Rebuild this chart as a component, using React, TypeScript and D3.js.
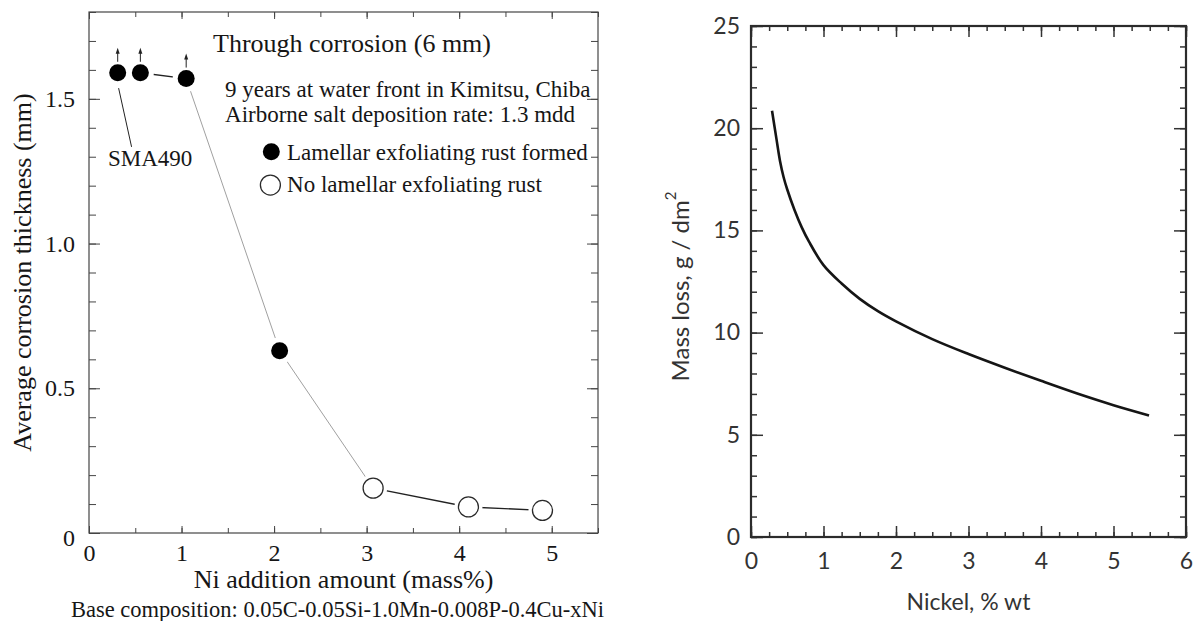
import { useEffect, useRef } from 'react';
import * as d3 from 'd3';

// left panel: Ni addition vs average corrosion thickness (9 yr exposure)
const niAmount = [0.31, 0.555, 1.05, 2.06, 3.07, 4.1, 4.9];
const corrosionMm = [1.59, 1.59, 1.57, 0.63, 0.155, 0.09, 0.078];
const lamellarRust = [true, true, true, true, false, false, false];
const throughCorroded = [true, true, true, false, false, false, false];
const segmentTone = ['dark', 'dark', 'light', 'light', 'dark', 'dark'];
const leftXTicks = [0, 1, 2, 3, 4, 5];
const leftYTicks = [0, 0.5, 1.0, 1.5];

// right panel: mass loss vs nickel content
const nickelWt = [0.29, 0.35, 0.4, 0.45, 0.5, 0.6, 0.7, 0.8, 1.0, 1.25, 1.5, 1.75, 2.0, 2.5, 3.0, 3.5, 4.0, 4.5, 5.0, 5.49];
const massLoss = [20.85, 19.5, 18.4, 17.6, 17.0, 16.0, 15.15, 14.45, 13.3, 12.4, 11.65, 11.05, 10.55, 9.68, 8.95, 8.28, 7.64, 7.02, 6.45, 5.95];
const rightXTicks = [0, 1, 2, 3, 4, 5, 6];
const rightYTicks = [0, 5, 10, 15, 20, 25];

const SERIF = '"Liberation Serif", "Times New Roman", serif';
const SANS = 'Lato, "Open Sans", sans-serif';

type Sel = d3.Selection<SVGGElement, unknown, null, undefined>;

function tickGroup(g: Sel, axis: any, transform: string, stroke: string, width = 1) {
  const a = g.append('g').attr('transform', transform).call(axis);
  a.select('.domain').remove();
  a.selectAll('line').attr('stroke', stroke).attr('stroke-width', width);
  return a;
}

function drawLeft(g: Sel) {
  const x = d3.scaleLinear().domain([0, 5.5]).range([89, 598]);
  const y = d3.scaleLinear().domain([0, 1.8]).range([533, 12]);
  const [x0, x1] = x.range();
  const [y0, y1] = y.range();
  const ink = '#161616';
  const frame = '#454545';

  const minorY = d3.range(0, 19).map((i) => i / 10);
  const halfX = d3.range(0, 12).map((i) => i / 2);
  const none = () => '';

  tickGroup(g, d3.axisLeft(y).tickValues(minorY).tickSize(-7).tickFormat(none), `translate(${x0},0)`, frame);
  tickGroup(g, d3.axisRight(y).tickValues(minorY).tickSize(-7).tickFormat(none), `translate(${x1},0)`, frame);
  tickGroup(g, d3.axisRight(y).tickValues(leftYTicks).tickSize(-11).tickFormat(none), `translate(${x1},0)`, frame);
  const yl = tickGroup(
    g,
    d3.axisLeft(y).tickValues(leftYTicks).tickSize(-11).tickPadding(14)
      .tickFormat((d: any) => (d === 0 ? '0' : d3.format('.1f')(d))),
    `translate(${x0},0)`, frame,
  );
  yl.selectAll('text').attr('font-size', 24).attr('font-family', SERIF).attr('fill', ink);
  // the zero label sits a little low in the original
  yl.selectAll('text').filter((d: any) => d === 0).attr('dy', '0.5em');

  tickGroup(g, d3.axisTop(x).tickValues(halfX).tickSize(-5).tickFormat(none), `translate(0,${y1})`, frame);
  tickGroup(g, d3.axisTop(x).tickValues(leftXTicks).tickSize(-7).tickFormat(none), `translate(0,${y1})`, frame);
  tickGroup(g, d3.axisBottom(x).tickValues(halfX).tickSize(-5).tickFormat(none), `translate(0,${y0})`, frame);
  const xl = tickGroup(
    g,
    d3.axisBottom(x).tickValues(leftXTicks).tickSize(-7).tickPadding(11).tickFormat(d3.format('d') as any),
    `translate(0,${y0})`, frame,
  );
  xl.selectAll('text').attr('font-size', 24).attr('font-family', SERIF).attr('fill', ink);

  g.append('rect')
    .attr('x', x0).attr('y', y1).attr('width', x1 - x0).attr('height', y0 - y1)
    .attr('fill', 'none').attr('stroke', frame).attr('stroke-width', 1.2);

  const pts = niAmount.map((v, i) => ({ x: v, y: corrosionMm[i], filled: lamellarRust[i], up: throughCorroded[i] }));

  // connecting segments
  d3.pairs(pts).forEach(([a, b], i) => {
    const light = segmentTone[i] === 'light';
    g.append('line')
      .attr('x1', x(a.x)).attr('y1', y(a.y)).attr('x2', x(b.x)).attr('y2', y(b.y))
      .attr('stroke', light ? '#a0a0a0' : '#222')
      .attr('stroke-width', light ? 1 : 1.4);
  });

  // white halos leave gaps around markers
  g.selectAll('circle.halo').data(pts).join('circle')
    .attr('class', 'halo')
    .attr('cx', (d) => x(d.x)).attr('cy', (d) => y(d.y))
    .attr('r', (d) => (d.filled ? 13.5 : 14))
    .attr('fill', '#fff');

  g.selectAll('circle.mark').data(pts).join('circle')
    .attr('class', 'mark')
    .attr('cx', (d) => x(d.x)).attr('cy', (d) => y(d.y))
    .attr('r', (d) => (d.filled ? 8.5 : 10))
    .attr('fill', (d) => (d.filled ? '#000' : '#fff'))
    .attr('stroke', (d) => (d.filled ? 'none' : '#2a2a2a'))
    .attr('stroke-width', 1.3);

  // upward arrows: corroded through
  pts.filter((d) => d.up).forEach((d) => {
    const cx = x(d.x);
    const cy = y(d.y);
    g.append('line')
      .attr('x1', cx).attr('x2', cx).attr('y1', cy - 11).attr('y2', cy - 20)
      .attr('stroke', '#222').attr('stroke-width', 1);
    g.append('path')
      .attr('d', `M${cx - 2},${cy - 19} L${cx},${cy - 25} L${cx + 2},${cy - 19} Z`)
      .attr('fill', '#222');
  });

  // SMA490 callout
  g.append('line')
    .attr('x1', x(0.32)).attr('y1', y(1.537)).attr('x2', x(0.46)).attr('y2', y(1.334))
    .attr('stroke', '#222').attr('stroke-width', 1);
  g.append('text')
    .attr('x', x(0.66)).attr('y', y(1.268))
    .attr('text-anchor', 'middle')
    .attr('font-family', SERIF).attr('font-size', 23).attr('fill', ink)
    .text('SMA490');

  const note = (tx: number, ty: number, size: number, s: string) =>
    g.append('text').attr('x', x(tx)).attr('y', y(ty))
      .attr('font-family', SERIF).attr('font-size', size).attr('fill', ink).text(s);

  note(1.34, 1.662, 26, 'Through corrosion (6 mm)');
  note(1.47, 1.507, 23, '9 years at water front in Kimitsu, Chiba');
  note(1.47, 1.42, 23, 'Airborne salt deposition rate: 1.3 mdd');

  // legend
  g.append('circle').attr('cx', x(1.97)).attr('cy', y(1.317)).attr('r', 8.5).attr('fill', '#000');
  note(2.14, 1.289, 23, 'Lamellar exfoliating rust formed');
  g.append('circle').attr('cx', x(1.96)).attr('cy', y(1.202)).attr('r', 10)
    .attr('fill', '#fff').attr('stroke', '#2a2a2a').attr('stroke-width', 1.3);
  note(2.14, 1.178, 23, 'No lamellar exfoliating rust');

  // axis titles
  g.append('text')
    .attr('transform', `translate(22,${(y0 + y1) / 2}) rotate(-90)`)
    .attr('text-anchor', 'middle').attr('dominant-baseline', 'central')
    .attr('font-family', SERIF).attr('font-size', 26).attr('fill', ink)
    .text('Average corrosion thickness (mm)');
  g.append('text')
    .attr('x', (x0 + x1) / 2).attr('y', 588)
    .attr('text-anchor', 'middle')
    .attr('font-family', SERIF).attr('font-size', 26).attr('fill', ink)
    .text('Ni addition amount (mass%)');
  g.append('text')
    .attr('x', (x0 + x1) / 2 - 6).attr('y', 617)
    .attr('text-anchor', 'middle')
    .attr('font-family', SERIF).attr('font-size', 22.5).attr('fill', ink)
    .text('Base composition: 0.05C-0.05Si-1.0Mn-0.008P-0.4Cu-xNi');
}

function drawRight(g: Sel) {
  const x = d3.scaleLinear().domain([0, 6]).range([751, 1186]);
  const y = d3.scaleLinear().domain([0, 25]).range([537, 26]);
  const [x0, x1] = x.range();
  const [y0, y1] = y.range();
  const ink = '#333';
  const none = () => '';

  const minorY = d3.range(0, 26);
  const quarterX = d3.range(0, 25).map((i) => i / 4);

  tickGroup(g, d3.axisLeft(y).tickValues(minorY).tickSize(-6).tickFormat(none), `translate(${x0},0)`, ink, 1.5);
  tickGroup(g, d3.axisRight(y).tickValues(minorY).tickSize(-6).tickFormat(none), `translate(${x1},0)`, ink, 1.5);
  tickGroup(g, d3.axisRight(y).tickValues(rightYTicks).tickSize(-12).tickFormat(none), `translate(${x1},0)`, ink, 1.5);
  const yl = tickGroup(
    g,
    d3.axisLeft(y).tickValues(rightYTicks).tickSize(-12).tickPadding(11).tickFormat(d3.format('d') as any),
    `translate(${x0},0)`, ink, 1.5,
  );
  yl.selectAll('text').attr('font-size', 23).attr('font-family', SANS).attr('fill', ink);

  tickGroup(g, d3.axisTop(x).tickValues(quarterX).tickSize(-5).tickFormat(none), `translate(0,${y1})`, ink, 1.5);
  tickGroup(g, d3.axisTop(x).tickValues(rightXTicks).tickSize(-11).tickFormat(none), `translate(0,${y1})`, ink, 1.5);
  tickGroup(g, d3.axisBottom(x).tickValues(quarterX).tickSize(-5).tickFormat(none), `translate(0,${y0})`, ink, 1.5);
  const xl = tickGroup(
    g,
    d3.axisBottom(x).tickValues(rightXTicks).tickSize(-11).tickPadding(16).tickFormat(d3.format('d') as any),
    `translate(0,${y0})`, ink, 1.5,
  );
  xl.selectAll('text').attr('font-size', 23).attr('font-family', SANS).attr('fill', ink);

  g.append('rect')
    .attr('x', x0).attr('y', y1).attr('width', x1 - x0).attr('height', y0 - y1)
    .attr('fill', 'none').attr('stroke', '#2b2b2b').attr('stroke-width', 2.2);

  const line = d3.line<number>()
    .x((d) => x(d))
    .y((_, i) => y(massLoss[i]))
    .curve(d3.curveCatmullRom.alpha(0.5));

  g.append('path')
    .datum(nickelWt)
    .attr('d', line)
    .attr('fill', 'none')
    .attr('stroke', '#151515')
    .attr('stroke-width', 2.6);

  const yt = g.append('text')
    .attr('transform', `translate(679,${(y0 + y1) / 2 + 5}) rotate(-90)`)
    .attr('text-anchor', 'middle').attr('dominant-baseline', 'central')
    .attr('font-family', SANS).attr('font-size', 24).attr('fill', ink);
  yt.append('tspan').text('Mass loss, g / dm');
  yt.append('tspan').attr('font-size', 15).attr('dy', -9).text('2');

  g.append('text')
    .attr('x', (x0 + x1) / 2).attr('y', 610)
    .attr('text-anchor', 'middle')
    .attr('font-family', SANS).attr('font-size', 23).attr('fill', ink)
    .text('Nickel, % wt');
}

export default function App() {
  const svgRef = useRef<SVGSVGElement>(null);

  useEffect(() => {
    if (!svgRef.current) return;
    const svg = d3.select(svgRef.current);
    svg.selectAll('*').remove();
    svg.append('rect').attr('width', 1198).attr('height', 621).attr('fill', '#fff');
    drawLeft(svg.append('g') as any);
    drawRight(svg.append('g') as any);
  }, []);

  return (
    <svg
      ref={svgRef}
      width={1198}
      height={621}
      style={{ position: 'fixed', left: 0, top: 0, background: '#fff' }}
    />
  );
}
